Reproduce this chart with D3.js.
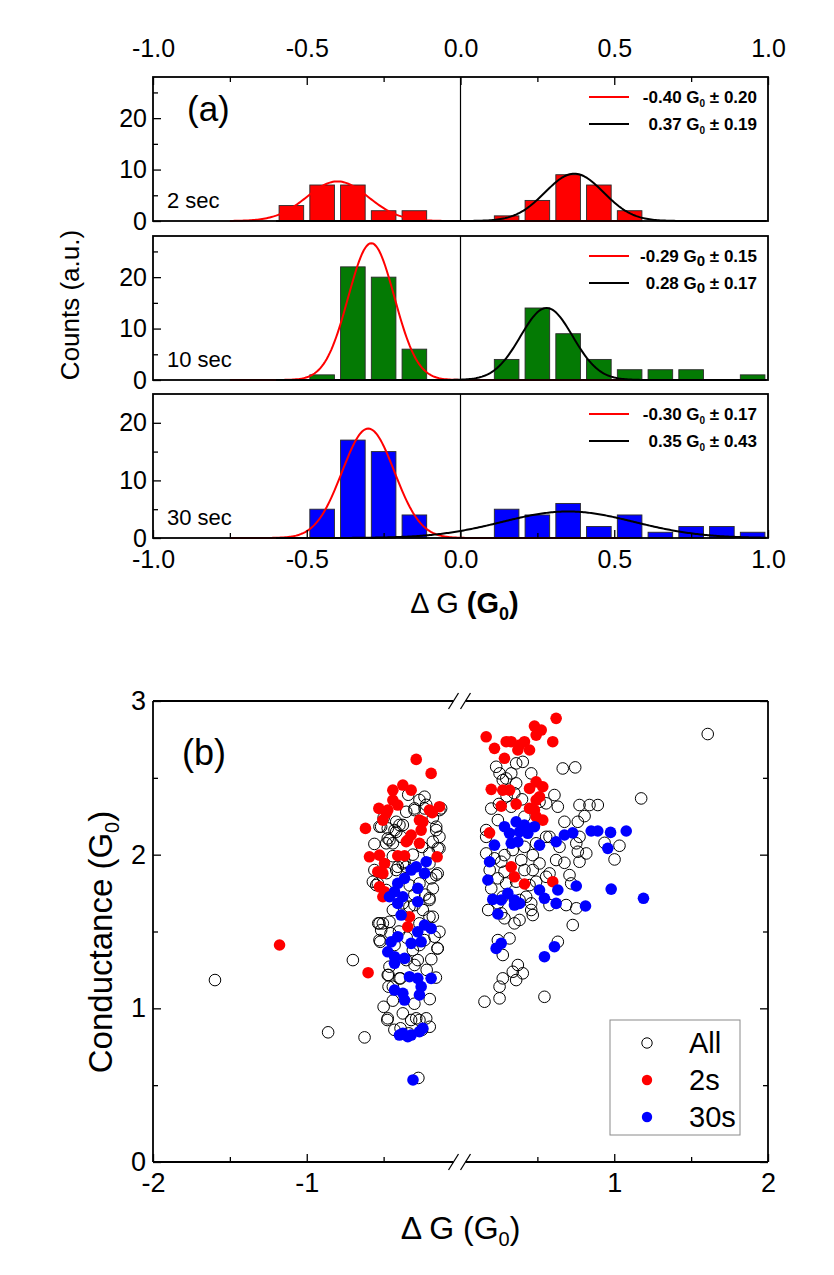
<!DOCTYPE html>
<html>
<head>
<meta charset="utf-8">
<script src="https://cdn.jsdelivr.net/npm/d3@7"></script>
<style>
body { margin: 0; background: #fff; }
svg text { fill: #000; }
</style>
</head>
<body>
<div class="c-svg"></div>
<script>
//DATA
//-------------------------------------------------------------------------

//histogram bins (centre of each 0.1 wide bin)
const binCenters = [-0.95, -0.85, -0.75, -0.65, -0.55, -0.45, -0.35, -0.25, -0.15, -0.05,
	0.05, 0.15, 0.25, 0.35, 0.45, 0.55, 0.65, 0.75, 0.85, 0.95];
const counts2s  = [0, 0, 0, 0, 3, 7, 7, 2, 2, 0,   0, 1, 4, 9, 7, 2, 0, 0, 0, 0];
const counts10s = [0, 0, 0, 0, 0, 1, 22, 20, 6, 0, 0, 4, 14, 9, 4, 2, 2, 2, 0, 1];
const counts30s = [0, 0, 0, 0, 0, 5, 17, 15, 4, 0, 0, 5, 4, 6, 2, 4, 1, 2, 2, 1];

const panelLabels = ["2 sec", "10 sec", "30 sec"];
const panelColors = ["#ff0000", "#047a04", "#0000ff"];
const panelMax = [28, 28, 25];

//gaussian fits (centre, width w = 2 sigma, peak height)
const fitNegCenter = [-0.40, -0.29, -0.30];
const fitNegWidth  = [0.20, 0.15, 0.17];
const fitNegPeak   = [7.7, 26.6, 19.0];
const fitPosCenter = [0.37, 0.28, 0.35];
const fitPosWidth  = [0.19, 0.17, 0.43];
const fitPosPeak   = [9.2, 14.0, 4.6];

//ticks
const histTicks = [-1, -0.5, 0, 0.5, 1];
const histTickLabels = ["-1.0", "-0.5", "0.0", "0.5", "1.0"];
const histMinorTicks = [-0.75, -0.25, 0.25, 0.75];
const countTicks = [0, 10, 20];
const countMinorTicks = [5, 15, 25];
const condTicks = [0, 1, 2, 3];
const condMinorTicks = [0.5, 1.5, 2.5];
const dgTicks = [-2, -1, 1, 2];
const dgTickLabels = ["-2", "-1", "1", "2"];
const dgMinorTicks = [-1.5, -0.5, 0.5, 1.5];

//scatter (delta G, conductance)
const allPoints = [
	[-0.267,2.356],[-0.299,2.301],[-0.353,2.279],[-0.223,2.324],[-0.126,2.301],[-0.418,2.214],[-0.473,2.171],[-0.527,2.182],
	[-0.375,2.193],[-0.418,2.149],[-0.386,2.116],[-0.473,2.106],[-0.440,2.074],[-0.158,2.182],[-0.137,2.116],[-0.180,2.084],
	[-0.148,2.041],[-0.202,2.008],[-0.202,1.943],[-0.375,1.943],[-0.418,1.900],[-0.353,1.921],[-0.538,1.813],[-0.570,1.824],
	[-0.267,1.813],[-0.191,1.846],[-0.148,1.878],[-0.483,1.770],[-0.202,1.705],[-0.375,1.683],[-0.245,1.640],[-0.440,1.640],
	[-0.527,1.553],[-0.462,1.563],[-0.202,1.596],[-0.267,1.553],[-0.700,1.314],[-0.624,0.811],[-0.473,0.935],[-0.375,0.967],
	[-0.288,0.935],[-0.223,0.935],[-0.440,1.141],[-0.473,1.217],[-0.462,1.271],[-0.397,1.195],[-0.527,1.444],[-0.505,1.553],
	[-0.516,1.509],[-0.548,1.802],[-0.158,1.867],[-0.148,1.390],[-0.169,1.466],[-0.137,1.498],[-0.180,1.596],[-0.202,1.716],
	[-0.299,1.672],[-0.332,1.661],[-0.462,2.095],[-0.429,2.160],[-0.397,2.193],[-0.483,2.074],[-0.516,2.182],[-0.299,2.290],
	[-0.234,2.301],[-0.137,2.290],[-0.158,2.160],[-0.137,2.041],[-0.364,1.954],[-0.408,1.921],[-0.310,1.379],[-0.278,1.314],
	[-0.353,1.314],[-0.299,1.282],[-0.321,0.924],[-0.267,0.924],[-1.597,1.184],[-0.861,0.844],[-0.476,0.924],[-0.390,0.870],
	[-0.336,0.837],[-0.468,1.217],[-0.468,1.141],[-0.390,1.195],[-0.522,1.433],[-0.535,1.553],[-0.455,1.488],[-0.150,1.390],
	[-0.274,0.547],[-0.234,2.377],[-0.267,1.412],[-0.234,1.444],[-0.429,1.412],[-0.310,2.000],[-0.250,2.050],[-0.330,1.800],
	[-0.300,1.740],[-0.480,1.880],[-0.440,1.990],[-0.230,1.740],[-0.180,1.780],[-0.400,1.500],[-0.350,1.460],[-0.190,1.320],
	[-0.220,1.250],[-0.160,1.200],[-0.440,1.050],[-0.300,1.030],[-0.200,1.060],[-0.500,1.010],[-0.250,0.860],[-0.200,0.880],
	[-0.430,0.860],[-0.340,2.390],[-0.180,2.240],[-0.500,2.240],[-0.560,2.070],[-0.560,1.900],
	[1.608,2.785],[1.175,2.366],[0.665,2.561],[0.746,2.568],[0.232,2.572],[0.330,2.529],[0.405,2.604],[0.460,2.529],
	[0.275,2.485],[0.362,2.464],[0.611,2.388],[0.633,2.312],[0.774,2.323],[0.839,2.323],[0.893,2.323],[0.807,2.251],
	[0.676,2.214],[0.763,2.214],[0.557,2.116],[0.753,2.074],[0.818,2.008],[0.937,2.077],[1.034,2.058],[1.002,1.969],
	[0.676,1.947],[0.774,1.954],[0.579,1.878],[0.709,1.867],[0.720,1.813],[0.492,2.074],[0.470,1.997],[0.416,2.051],
	[0.395,1.965],[0.416,1.900],[0.340,2.030],[0.286,1.997],[0.265,1.954],[0.221,1.976],[0.167,2.008],[0.470,1.900],
	[0.427,1.726],[0.460,1.640],[0.384,1.705],[0.730,1.542],[0.753,1.651],[0.265,1.618],[0.286,1.586],[0.351,1.553],
	[0.384,1.575],[0.254,2.529],[0.297,2.496],[0.362,2.594],[0.514,2.344],[0.557,2.334],[0.416,2.247],[0.330,2.312],
	[0.243,2.225],[0.167,2.160],[0.167,2.116],[0.579,2.116],[0.774,2.116],[0.763,2.019],[0.644,2.051],[0.622,1.965],
	[0.514,1.943],[0.557,1.856],[0.492,1.824],[0.286,1.889],[0.243,1.846],[0.297,1.813],[0.362,1.824],[0.449,1.802],
	[0.275,1.726],[0.243,1.683],[0.460,1.683],[0.579,1.672],[0.687,1.672],[0.243,1.444],[0.319,1.455],[0.633,1.433],
	[0.373,1.282],[0.405,1.228],[0.340,1.238],[0.362,1.184],[0.275,1.195],[0.254,1.141],[0.156,1.043],[0.254,1.065],
	[0.546,1.075],[0.470,1.607],[0.275,1.347],[0.300,2.380],[0.350,2.400],[0.250,2.330],[0.400,2.360],[0.200,2.300],
	[0.190,1.900],[0.200,1.780],[0.180,1.640]
];

const points2s = [
	[-0.288,2.620],[-0.191,2.529],[-0.440,2.420],[-0.375,2.453],[-0.321,2.420],[-0.440,2.355],[-0.408,2.323],[-0.473,2.290],
	[-0.505,2.225],[-0.531,2.301],[-0.483,2.269],[-0.618,2.171],[-0.202,2.290],[-0.137,2.312],[-0.184,2.273],[-0.267,2.225],
	[-0.245,2.214],[-0.256,2.160],[-0.321,2.128],[-0.343,2.095],[-0.267,2.074],[-0.353,2.084],[-0.592,1.986],[-0.527,1.997],
	[-0.494,1.943],[-0.538,1.889],[-0.505,1.878],[-0.408,1.993],[-0.364,1.993],[-0.152,1.986],[-0.527,1.791],[-0.494,1.759],
	[-0.505,1.726],[-0.332,1.596],[-0.343,1.531],[-1.177,1.412],[-0.601,1.232],
	[0.167,2.767],[0.221,2.692],[0.297,2.735],[0.330,2.735],[0.384,2.713],[0.416,2.735],[0.449,2.681],[0.373,2.681],
	[0.481,2.837],[0.525,2.811],[0.492,2.778],[0.622,2.887],[0.600,2.735],[0.286,2.627],[0.200,2.425],[0.275,2.420],
	[0.319,2.420],[0.449,2.431],[0.492,2.474],[0.535,2.442],[0.514,2.377],[0.492,2.355],[0.265,2.316],[0.362,2.329],
	[0.449,2.301],[0.481,2.290],[0.492,2.247],[0.535,2.225],[0.189,2.142],[0.330,1.921],[0.351,1.856],[0.416,1.809],
	[0.600,1.824]
];

const points30s = [
	[-0.223,1.954],[-0.288,1.921],[-0.321,1.900],[-0.234,1.878],[-0.364,1.846],[-0.408,1.813],[-0.429,1.759],[-0.462,1.726],
	[-0.375,1.726],[-0.408,1.683],[-0.278,1.781],[-0.278,1.694],[-0.386,1.607],[-0.234,1.542],[-0.191,1.520],[-0.278,1.498],
	[-0.256,1.433],[-0.321,1.423],[-0.408,1.466],[-0.451,1.433],[-0.473,1.368],[-0.429,1.336],[-0.364,1.325],[-0.429,1.293],
	[-0.332,1.206],[-0.278,1.195],[-0.191,1.195],[-0.256,1.141],[-0.267,1.087],[-0.429,1.119],[-0.375,1.098],[-0.364,1.054],
	[-0.375,0.837],[-0.343,0.815],[-0.321,0.826],[-0.267,0.848],[-0.245,0.870],[-0.397,0.826],[-0.309,0.534],
	[0.286,2.182],[0.362,2.214],[0.416,2.193],[0.481,2.182],[0.384,2.149],[0.438,2.139],[0.319,2.139],[0.221,2.062],
	[0.330,2.074],[0.373,2.084],[0.514,2.062],[0.622,2.084],[0.676,2.128],[0.730,2.142],[0.850,2.154],[0.893,2.154],
	[0.976,2.145],[1.078,2.154],[0.958,2.041],[0.189,1.954],[0.178,1.835],[0.210,1.709],[0.265,1.705],[0.308,1.748],
	[0.351,1.705],[0.384,1.683],[0.351,1.672],[0.243,1.614],[0.514,1.770],[0.546,1.716],[0.633,1.770],[0.622,1.683],
	[0.753,1.796],[0.813,1.666],[0.980,1.776],[1.190,1.716],[0.232,1.390],[0.265,1.423],[0.611,1.401],[0.546,1.336]
];

const scatterLegend = ["All", "2s", "30s"];


//INITIALISATION
//-------------------------------------------------------------------------

const opts = {
	width: 834,
	height: 1275,
	font: "'Liberation Sans', Arial, Helvetica, sans-serif"
};

const svg = d3.select(".c-svg")
	.append("svg")
	.attr("width", opts.width)
	.attr("height", opts.height)
	.style("font-family", opts.font);

//style an axis group: no domain, black ticks, our font
function styleAxis(sel, size) {
	sel.select(".domain").remove();
	sel.selectAll(".tick line").attr("stroke", "#000").attr("stroke-width", 1.3);
	sel.selectAll(".tick text").attr("font-size", size || 25).attr("font-family", opts.font);
	sel.attr("font-family", null).attr("font-size", null);
}


//PANEL (a) : HISTOGRAMS
//-------------------------------------------------------------------------

const hist = {
	left: 153,
	right: 768,
	tops: [77, 236, 394],
	height: 144,
	barHalf: 0.04
};

const x = d3.scaleLinear()
	.domain([-1, 1])
	.range([hist.left, hist.right]);

const panelCounts = [counts2s, counts10s, counts30s];

const gauss = (xc, w, peak) => (t) => peak * Math.exp(-2 * Math.pow((t - xc) / w, 2));

panelCounts.forEach((counts, i) => {

	const top = hist.tops[i];
	const bottom = top + hist.height;

	const y = d3.scaleLinear()
		.domain([0, panelMax[i]])
		.range([bottom, top]);

	const g = svg.append("g").attr("class", "panel panel-" + i);

	//bars
	g.selectAll("rect.bar")
		.data(binCenters.map((c, j) => ({ c: c, v: counts[j] })).filter((d) => d.v > 0))
		.join("rect")
		.attr("class", "bar")
		.attr("x", (d) => x(d.c - hist.barHalf))
		.attr("width", (d) => x(d.c + hist.barHalf) - x(d.c - hist.barHalf))
		.attr("y", (d) => y(d.v))
		.attr("height", (d) => y(0) - y(d.v))
		.attr("fill", panelColors[i])
		.attr("stroke", "#2a2a2a")
		.attr("stroke-width", 0.9);

	//zero line
	g.append("line")
		.attr("x1", x(0)).attr("x2", x(0))
		.attr("y1", top).attr("y2", bottom)
		.attr("stroke", "#000")
		.attr("stroke-width", 1.2);

	//fit curves
	const negFit = gauss(fitNegCenter[i], fitNegWidth[i], fitNegPeak[i]);
	const posFit = gauss(fitPosCenter[i], fitPosWidth[i], fitPosPeak[i]);

	g.append("path")
		.datum(d3.range(-0.75, 0.555, 0.005))
		.attr("d", d3.line().x((t) => x(t)).y((t) => y(negFit(t))))
		.attr("fill", "none")
		.attr("stroke", "#ff0000")
		.attr("stroke-width", 2);

	g.append("path")
		.datum(d3.range(-0.6, 1.0, 0.005))
		.attr("d", d3.line().x((t) => x(t)).y((t) => y(posFit(t))))
		.attr("fill", "none")
		.attr("stroke", "#000")
		.attr("stroke-width", 2);

	//frame
	g.append("rect")
		.attr("x", hist.left).attr("y", top)
		.attr("width", hist.right - hist.left).attr("height", hist.height)
		.attr("fill", "none")
		.attr("stroke", "#000")
		.attr("stroke-width", 1.8);

	//y axis
	g.append("g")
		.attr("transform", `translate(${hist.left} 0)`)
		.call(d3.axisLeft(y).tickValues(countTicks).tickSize(-8).tickPadding(6))
		.call(styleAxis);

	g.append("g")
		.attr("transform", `translate(${hist.left} 0)`)
		.call(d3.axisLeft(y).tickValues(countMinorTicks.filter((v) => v < panelMax[i])).tickSize(-5).tickFormat(""))
		.call(styleAxis);

	//time label
	g.append("text")
		.attr("x", 167)
		.attr("y", bottom - 13)
		.attr("font-size", 22)
		.text(panelLabels[i]);

	//fit legend
	const legendRows = [
		{ xc: fitNegCenter[i], w: fitNegWidth[i], color: "#ff0000" },
		{ xc: fitPosCenter[i], w: fitPosWidth[i], color: "#000" }
	];

	legendRows.forEach((r, k) => {
		const ly = top + 20 + k * 27;
		g.append("line")
			.attr("x1", 589).attr("x2", 629)
			.attr("y1", ly).attr("y2", ly)
			.attr("stroke", r.color)
			.attr("stroke-width", 2);
		const t = g.append("text")
			.attr("x", 757)
			.attr("y", ly + 6)
			.attr("text-anchor", "end")
			.attr("font-size", 17)
			.attr("font-weight", "bold");
		t.append("tspan").text(r.xc.toFixed(2) + " G");
		t.append("tspan").attr("font-size", i === 1 ? 15 : 10).attr("dy", 4).text("0");
		t.append("tspan").attr("dy", -4).text(" \u00b1 " + r.w.toFixed(2));
	});

	//top axis on first panel, bottom axis on last panel
	if (i === 0) {
		g.append("g")
			.attr("transform", `translate(0 ${top})`)
			.call(d3.axisTop(x).tickValues(histTicks).tickSize(-8).tickPadding(20)
				.tickFormat((d, k) => histTickLabels[k]))
			.call(styleAxis);
		g.append("g")
			.attr("transform", `translate(0 ${top})`)
			.call(d3.axisTop(x).tickValues(histMinorTicks).tickSize(-5).tickFormat(""))
			.call(styleAxis);
	}
	if (i === 2) {
		g.append("g")
			.attr("transform", `translate(0 ${bottom})`)
			.call(d3.axisBottom(x).tickValues(histTicks).tickSize(-8).tickPadding(12)
				.tickFormat((d, k) => histTickLabels[k]))
			.call(styleAxis);
		g.append("g")
			.attr("transform", `translate(0 ${bottom})`)
			.call(d3.axisBottom(x).tickValues(histMinorTicks).tickSize(-5).tickFormat(""))
			.call(styleAxis);
	}
});

//panel (a) labels
svg.append("text")
	.attr("x", 187).attr("y", 121)
	.attr("font-size", 35)
	.text("(a)");

svg.append("text")
	.attr("transform", "translate(79 305) rotate(-90)")
	.attr("text-anchor", "middle")
	.attr("font-size", 26)
	.text("Counts (a.u.)");

const titleA = svg.append("text")
	.attr("x", x(0) + 4).attr("y", 613)
	.attr("text-anchor", "middle")
	.attr("font-size", 29);
titleA.append("tspan").text("\u0394 G ");
titleA.append("tspan").attr("font-weight", "bold").text("(G");
titleA.append("tspan").attr("font-weight", "bold").attr("font-size", 18).attr("dy", 7).text("0");
titleA.append("tspan").attr("font-weight", "bold").attr("dy", -7).text(")");


//PANEL (b) : SCATTER
//-------------------------------------------------------------------------

const scat = {
	left: 153,
	right: 768,
	top: 701,
	bottom: 1162,
	r: 5.8
};

const xb = d3.scaleLinear()
	.domain([-2, 2])
	.range([scat.left, scat.right]);

const yb = d3.scaleLinear()
	.domain([0, 3])
	.range([scat.bottom, scat.top]);

const gb = svg.append("g").attr("class", "scatter");

//points
gb.append("g").selectAll("circle")
	.data(allPoints)
	.join("circle")
	.attr("cx", (d) => xb(d[0]))
	.attr("cy", (d) => yb(d[1]))
	.attr("r", scat.r)
	.attr("fill", "none")
	.attr("stroke", "#000")
	.attr("stroke-width", 1);

gb.append("g").selectAll("circle")
	.data(points2s)
	.join("circle")
	.attr("cx", (d) => xb(d[0]))
	.attr("cy", (d) => yb(d[1]))
	.attr("r", scat.r)
	.attr("fill", "#ff0000");

gb.append("g").selectAll("circle")
	.data(points30s)
	.join("circle")
	.attr("cx", (d) => xb(d[0]))
	.attr("cy", (d) => yb(d[1]))
	.attr("r", scat.r)
	.attr("fill", "#0000ff");

//frame with axis break at 0
const bx = xb(0);
const frame = [
	[scat.left, scat.top, scat.left, scat.bottom],
	[scat.right, scat.top, scat.right, scat.bottom],
	[scat.left, scat.top, bx - 7, scat.top],
	[bx + 5, scat.top, scat.right, scat.top],
	[scat.left, scat.bottom, bx - 7, scat.bottom],
	[bx + 5, scat.bottom, scat.right, scat.bottom]
];
gb.selectAll("line.frame")
	.data(frame)
	.join("line")
	.attr("class", "frame")
	.attr("x1", (d) => d[0]).attr("y1", (d) => d[1])
	.attr("x2", (d) => d[2]).attr("y2", (d) => d[3])
	.attr("stroke", "#000")
	.attr("stroke-width", 1.8);

//break marks
[scat.top, scat.bottom].forEach((yy) => {
	[bx - 7, bx + 5].forEach((cx) => {
		gb.append("line")
			.attr("x1", cx - 5).attr("y1", yy + 8)
			.attr("x2", cx + 5).attr("y2", yy - 8)
			.attr("stroke", "#000")
			.attr("stroke-width", 1.3);
	});
});

//axes
gb.append("g")
	.attr("transform", `translate(${scat.left} 0)`)
	.call(d3.axisLeft(yb).tickValues(condTicks).tickSize(-8).tickPadding(7).tickFormat((d) => String(d)))
	.call(styleAxis, 27);
gb.append("g")
	.attr("transform", `translate(${scat.left} 0)`)
	.call(d3.axisLeft(yb).tickValues(condMinorTicks).tickSize(-5).tickFormat(""))
	.call(styleAxis);
gb.append("g")
	.attr("transform", `translate(${scat.right} 0)`)
	.call(d3.axisRight(yb).tickValues(condTicks).tickSize(-8).tickFormat(""))
	.call(styleAxis);
gb.append("g")
	.attr("transform", `translate(${scat.right} 0)`)
	.call(d3.axisRight(yb).tickValues(condMinorTicks).tickSize(-5).tickFormat(""))
	.call(styleAxis);
gb.append("g")
	.attr("transform", `translate(0 ${scat.bottom})`)
	.call(d3.axisBottom(xb).tickValues(dgTicks).tickSize(-8).tickPadding(11)
		.tickFormat((d, k) => dgTickLabels[k]))
	.call(styleAxis, 27);
gb.append("g")
	.attr("transform", `translate(0 ${scat.bottom})`)
	.call(d3.axisBottom(xb).tickValues(dgMinorTicks).tickSize(-5).tickFormat(""))
	.call(styleAxis);

//labels
svg.append("text")
	.attr("x", 182).attr("y", 765)
	.attr("font-size", 36)
	.text("(b)");

const titleY = svg.append("text")
	.attr("transform", "translate(112 942) rotate(-90)")
	.attr("text-anchor", "middle")
	.attr("font-size", 33);
titleY.append("tspan").text("Conductance (G");
titleY.append("tspan").attr("font-size", 20).attr("dy", 7).text("0");
titleY.append("tspan").attr("dy", -7).text(")");

const titleB = svg.append("text")
	.attr("x", bx).attr("y", 1239)
	.attr("text-anchor", "middle")
	.attr("font-size", 32);
titleB.append("tspan").text("\u0394 G (G");
titleB.append("tspan").attr("font-size", 20).attr("dy", 7).text("0");
titleB.append("tspan").attr("dy", -7).text(")");

//legend
const lg = gb.append("g").attr("class", "legend");
lg.append("rect")
	.attr("x", 610).attr("y", 1020)
	.attr("width", 130).attr("height", 115)
	.attr("fill", "#fff")
	.attr("stroke", "#8a8a8a")
	.attr("stroke-width", 1);

scatterLegend.forEach((name, k) => {
	const ly = 1043 + k * 37;
	lg.append("circle")
		.attr("cx", 647).attr("cy", ly)
		.attr("r", 5.2)
		.attr("fill", k === 0 ? "none" : (k === 1 ? "#ff0000" : "#0000ff"))
		.attr("stroke", k === 0 ? "#000" : "none")
		.attr("stroke-width", 1);
	lg.append("text")
		.attr("x", 689).attr("y", ly + 10)
		.attr("font-size", 29)
		.text(name);
});
</script>
</body>
</html>
